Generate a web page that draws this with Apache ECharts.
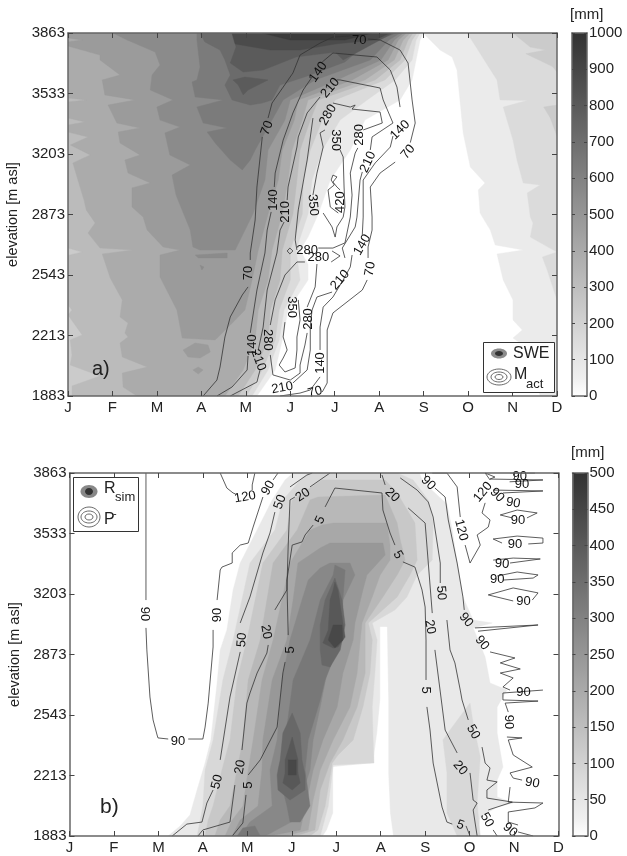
<!DOCTYPE html>
<html><head><meta charset="utf-8">
<style>html,body{margin:0;padding:0;background:#fff}#c{width:627px;height:856px}</style>
<script src="https://cdn.jsdelivr.net/npm/echarts@6/dist/echarts.min.js"></script>
</head><body><div id="c"></div>
<script>
const monthLabels=['J','F','M','A','M','J','J','A','S','O','N','D'];
const monthTicks=[0,1,2,3,4,5,6,7,8,9,10,11];
const elevationTicks=[1883,2213,2543,2873,3203,3533,3863];
const colorbarGrays=['#ffffff','#efefef','#e6e6e6','#dcdcdc','#d2d2d2','#c8c8c8','#bebebe','#b4b4b4','#aaaaaa','#a0a0a0','#969696','#8c8c8c','#828282','#787878','#6e6e6e','#646464','#5a5a5a','#505050','#464646','#3c3c3c','#333333'];
const sweGrays=['#ebebeb','#dbdbdb','#cbcbcb','#bbbbbb','#ababab','#9b9b9b','#8b8b8b','#7b7b7b','#6b6b6b','#5b5b5b','#4b4b4b','#3b3b3b'];
const rsimGrays=['#e9e9e9','#ffffff','#d8d8d8','#c8c8c8','#b8b8b8','#a8a8a8','#989898','#888888','#787878','#686868','#585858','#484848'];

// Panel a: SWE filled bands, [month, elevation]
const sweBand1=[
 [[0,3863],[7.99,3863],[7.92,3825],[7.83,3716],[7.74,3607],[7.47,3498],[6.68,3388],[6.35,3225],[5.90,3061],[5.63,2876],[5.40,2750],[5.22,2679],[5.40,2600],[5.40,2516],[4.95,2352],[4.82,2189],[4.66,2025],[4.25,1883],[0,1883]],
 [[7.99,3863],[8.37,3770],[8.64,3732],[8.75,3661],[8.89,3318],[9.05,3132],[9.38,3045],[9.23,3007],[9.27,2881],[9.50,2788],[9.61,2707],[10.24,2679],[9.65,2658],[9.79,2516],[10.01,2407],[10.01,2298],[10.22,2243],[10.01,2199],[10.40,2134],[10.62,1883],[11,1883],[11,3863]]];
const sweBand2=[
 [[0,3863],[7.92,3863],[7.83,3825],[7.74,3716],[7.36,3607],[6.73,3498],[6.12,3388],[5.72,3225],[5.49,3061],[5.40,2876],[5.13,2679],[5.22,2516],[4.86,2352],[4.75,2189],[4.50,2025],[4.14,1883],[0,1883]],
 [[8.98,3863],[9.65,3607],[9.72,3498],[10.33,3495],[9.79,3459],[10.01,3279],[10.10,3170],[10.24,3045],[10.62,3034],[10.33,2990],[10.40,2859],[10.46,2827],[10.40,2750],[11,2668],[10.67,2641],[10.78,2570],[11,2407],[11,3863]]];
const sweBand3=[
 [[0,3863],[7.85,3863],[7.74,3825],[7.58,3716],[7.13,3607],[6.01,3498],[5.72,3388],[5.45,3225],[5.29,3061],[5.27,2876],[5.00,2679],[5.00,2516],[4.75,2352],[4.66,2189],[4.37,2025],[4.01,1883],[0,1883]],
 [[10.01,3863],[10.40,3786],[10.75,3770],[10.30,3750],[10.90,3680],[11,3650],[11,3863]],
 [[11,3470],[10.70,3459],[10.85,3400],[11,3300]]];
const sweBand4=[
 [[0,3863],[0,2690],[0.32,2668],[0,2650],[0,2380],[0.09,2352],[0,2325],[0.32,2216],[0.05,2189],[0.09,2107],[0.05,2052],[0.72,1992],[0.09,1938],[0.09,1883],[3.83,1883],[4.21,2025],[4.50,2189],[4.55,2352],[4.77,2516],[4.82,2679],[5.06,2876],[5.15,3061],[5.22,3225],[5.45,3388],[5.63,3498],[6.91,3607],[7.47,3716],[7.65,3825],[7.76,3863]]];
const sweBand5=[
 [[0,3863],[0,3508],[0.41,3498],[0,3487],[0,3399],[0.38,3378],[0,3361],[0,3323],[0.45,3296],[0.05,3252],[0.50,3198],[0.11,3154],[0.27,3023],[0.36,2952],[0.41,2898],[0.61,2827],[0.45,2772],[0.72,2690],[1.46,2679],[0.77,2658],[0.95,2527],[1.22,2407],[1.17,2314],[1.35,2281],[1.28,2227],[1.35,2205],[1.17,2172],[1.22,2096],[1.78,2041],[1.22,2008],[1.24,1932],[1.55,1883],[3.53,1883],[3.94,2025],[4.21,2189],[4.28,2352],[4.50,2516],[4.59,2679],[4.82,2876],[4.95,3061],[5.04,3225],[5.27,3388],[5.40,3498],[6.68,3607],[7.34,3716],[7.54,3825],[7.70,3863]]];
const sweBand6=[
 [[0,3863],[0,3836],[0.32,3825],[0,3814],[0,3792],[0.72,3743],[0.72,3716],[1.17,3634],[0.77,3607],[0.83,3525],[1.51,3498],[0.90,3470],[1.10,3372],[1.62,3345],[1.13,3323],[1.17,3263],[1.62,3198],[1.28,3170],[1.35,3099],[1.85,3045],[1.44,3018],[1.44,2914],[1.69,2859],[1.78,2788],[2.14,2696],[2.52,2679],[2.07,2652],[2.07,2532],[2.45,2352],[2.57,2199],[3.31,2189],[3.65,2270],[3.98,2352],[4.14,2516],[4.28,2679],[4.50,2876],[4.73,3061],[4.82,3225],[5.09,3388],[5.18,3498],[6.39,3607],[7.20,3716],[7.43,3825],[7.61,3863]],
 [[2.59,2134],[2.86,2172],[3.15,2161],[3.20,2123],[2.97,2090],[2.70,2096]],
 [[2.81,2025],[2.93,2041],[3.04,2025],[2.93,2003]]];
const sweBand7=[
 [[1.01,3863],[1.33,3825],[1.96,3759],[2.07,3688],[1.89,3634],[1.85,3552],[2.36,3498],[2.00,3459],[2.07,3388],[2.52,3350],[2.18,3318],[2.29,3198],[2.75,3143],[2.34,3088],[2.43,2979],[2.75,2788],[2.81,2696],[2.97,2679],[3.76,2679],[4.16,2876],[4.43,3061],[4.50,3225],[4.88,3388],[5.00,3498],[6.05,3607],[7.04,3716],[7.34,3825],[7.54,3863]],
 [[2.86,2652],[3.58,2663],[3.58,2636],[2.93,2636]],
 [[2.97,2597],[3.06,2586],[3.01,2570]]];
const sweBand8=[
 [[2.90,3863],[2.90,3825],[2.97,3678],[2.90,3607],[2.79,3596],[2.86,3514],[3.49,3498],[2.90,3459],[3.04,3372],[3.58,3345],[3.13,3323],[3.31,3263],[3.65,3170],[3.92,3116],[4.10,3170],[4.21,3225],[4.59,3388],[4.84,3498],[5.56,3607],[6.80,3716],[7.22,3825],[7.47,3863]]];
const sweBand9=[
 [[2.97,3863],[3.08,3814],[3.42,3770],[3.53,3716],[3.65,3634],[3.53,3579],[3.69,3498],[4.10,3470],[4.37,3481],[4.59,3498],[4.77,3579],[5.45,3634],[6.23,3705],[6.68,3798],[7.38,3863]]];
const sweBand10=[
 [[3.69,3863],[3.78,3787],[3.65,3699],[3.94,3650],[4.39,3661],[5.13,3732],[6.01,3759],[6.19,3716],[7.02,3825],[7.31,3863]],
 [[3.71,3607],[3.98,3623],[4.50,3607],[4.05,3552],[3.94,3525],[3.83,3579]]];
const sweBand11=[
 [[3.69,3863],[3.76,3803],[4.55,3770],[5.22,3770],[6.01,3803],[6.91,3825],[7.25,3863]]];
const sweBand12=[
 [[4.37,3863],[5.00,3825],[6.23,3825],[6.84,3863]]];
const sweBands=[sweBand1,sweBand2,sweBand3,sweBand4,sweBand5,sweBand6,sweBand7,sweBand8,sweBand9,sweBand10,sweBand11,sweBand12];

// Panel a: Mact contours; null breaks a line under its label
const mact70=[[3.04,1883],[3.35,1970],[3.42,2041],[3.53,2205],[3.65,2314],[3.92,2434],[4.05,2478],null,[4.10,2625],[4.10,2663],[4.21,2843],[4.25,3023],[4.37,3296],null,[4.50,3399],[4.59,3481],[4.84,3568],[5.06,3645],[5.22,3743],[5.67,3808],[5.96,3841],[6.35,3847],null,[6.75,3830],[7.02,3825],[7.47,3770],[7.65,3699],[7.74,3498],[7.81,3372],[7.70,3265],null,[7.36,3159],[7.02,3099],[6.80,3023],[6.84,2859],[6.84,2788],[6.75,2696],[6.75,2636],null,[6.73,2516],[6.62,2461],[5.96,2336],[5.83,2243],[5.83,1954],[5.72,1905]];
const mact140=[[3.35,1883],[3.69,1932],[4.03,2025],[4.05,2101],null,[4.10,2227],[4.25,2461],[4.43,2663],[4.48,2788],[4.57,2887],null,[4.64,3023],[4.66,3099],[4.84,3279],[5.06,3427],[5.29,3552],[5.49,3623],null,[5.72,3705],[5.96,3754],[6.95,3732],[7.25,3661],[7.40,3568],[7.47,3459],null,[7.31,3301],[7.25,3241],[6.91,3154],[6.64,3061],[6.64,2859],[6.62,2761],null,[6.39,2652],[6.35,2587],[6.19,2516],[5.96,2423],[5.74,2368],[5.67,2259],[5.67,2134],null,[5.67,1987],[5.45,1916],[5.22,1899],[4.77,1883]];
const mact210=[[3.65,1883],[4.25,1959],[4.32,2025],null,[4.28,2134],[4.39,2259],[4.48,2461],[4.70,2663],[4.77,2788],[4.86,2832],null,[4.93,2952],[4.95,3023],[5.15,3241],[5.18,3296],[5.38,3427],[5.67,3514],null,[6.05,3607],[6.12,3607],[7.02,3563],[7.09,3498],[7.31,3372],[6.84,3296],[6.80,3225],null,[6.62,3105],[6.57,3061],[6.50,2859],[6.46,2805],[6.17,2690],[6.23,2636],null,[5.94,2450],[5.60,2423],[5.49,2352],[5.45,2259],[5.45,2134],[5.38,2025],[5.06,1954],null,[4.50,1889]];
const mact280Upper=[[6.23,2718],[5.96,2690],[5.63,2690],null,[5.15,2679],[5.11,2734],[5.18,2898],[5.38,3170],[5.51,3399],null,[5.96,3481],[6.35,3459],[6.46,3470],[6.39,3448],[7.02,3432],[7.07,3372],[6.64,3334],null,[6.52,3236],[6.46,3208],[6.35,3099],[6.39,2979],[6.35,2859],[6.23,2718]];
const mact280Lower=[[5.15,2614],[5.33,2614],null,[5.92,2614],[6.12,2647],[5.94,2674]];
const mact280South=[[5.60,2603],[5.56,2478],[5.38,2368],null,[5.38,2227],[5.33,2161],[5.22,2052],[5.22,2008],[5.00,1970],[4.61,1998],[4.55,2107],null,[4.55,2270],[4.66,2407],[4.88,2543],[5.15,2614]];
const mact280Small=[[4.99,2690],[5.06,2674],[4.99,2658],[4.93,2674],[4.99,2690]];
const mact350South=[[5.18,2407],[5.22,2298],[5.15,2205],[5.15,2134],[5.11,2036],[4.88,2014],[4.75,2052],[4.84,2090],[4.93,2134],[4.84,2205],[4.88,2286]];
const mact350North=[[5.67,3318],[5.78,3334],null,[6.12,3225],[6.19,3187],[6.21,3023],[6.23,2914],[6.19,2859],[6.05,2805],[6.01,2750],[5.94,2805],[5.74,2881],null,[5.51,2979],[5.60,3099],[5.74,3241],[5.67,3318]];
const mact420=[[5.85,3007],[5.90,2914],[6.08,2881],null,[6.12,3007],[6.05,3023],[5.96,3050],[6.05,3078],[5.96,3088],[5.92,3061],[5.99,3034],[5.85,3007]];
const mactLines=[mact70,mact140,mact210,mact280Upper,mact280Lower,mact280South,mact280Small,mact350South,mact350North,mact420];
const mactLabels=[[6.55,3825,'70'],[5.63,3650,'140'],[5.90,3563,'210'],[5.85,3416,'280'],[6.01,3279,'350'],[4.48,3345,'70'],[4.61,2952,'140'],[4.88,2887,'210'],[6.55,3307,'280'],[6.75,3159,'210'],[7.47,3334,'140'],[7.65,3214,'70'],[6.12,2941,'420'],[5.51,2925,'350'],[5.38,2679,'280'],[5.63,2641,'280'],[6.62,2707,'140'],[6.80,2576,'70'],[6.12,2516,'210'],[4.05,2554,'70'],[5.04,2368,'350'],[5.40,2303,'280'],[4.50,2189,'280'],[4.14,2161,'140'],[4.28,2079,'210'],[4.82,1927,'210'],[5.67,2063,'140'],[5.56,1905,'70']];
const mactLabelAngles=[0,55,50,60,-90,70,90,90,90,65,45,50,90,-85,0,0,60,80,50,90,-90,90,-90,90,-70,10,90,15];

// Panel b: Rsim filled bands
const rsimBand1=[[[5.03,3863],[4.85,3825],[4.56,3716],[4.22,3552],[3.84,3372],[3.68,3225],[3.54,3007],[3.39,2898],[3.32,2718],[3.18,2407],[3.05,2281],[2.87,2134],[2.71,1998],[2.49,1938],[2.22,1883],[9.17,1883],[9.24,1987],[9.62,2041],[9.98,2063],[9.62,2096],[9.62,2188],[9.75,2259],[9.62,2445],[9.62,2587],[9.84,2679],[9.46,2718],[9.35,2859],[9.08,3018],[9.51,3045],[9.08,3061],[8.85,3187],[8.72,3372],[8.61,3552],[8.49,3694],[7.95,3814],[7.87,3863]]];
const rsimNotch=[[[6.99,3023],[7.14,3023],[7.17,2625],[7.17,2227],[7.21,2008],[7.28,1883],[5.70,1883],[5.79,1916],[5.93,2008],[5.93,2259],[6.83,2281],[6.92,2445],[6.99,2625]]];
const rsimBand2=[[[2.87,1883],[2.94,1970],[3.00,2047],[3.05,2243],[3.23,2407],[3.45,2734],[3.68,2952],[4.06,3372],[4.62,3552],[4.80,3716],[5.19,3825],[5.41,3863],[7.37,3863],[7.73,3825],[8.07,3716],[8.18,3590],[8.16,3388],[7.82,3307],[7.59,3187],[7.32,3116],[6.81,3045],[6.92,2952],[6.87,2772],[6.81,2587],[6.83,2407],[6.85,2281],[5.93,2270],[5.82,2047],[5.64,1883]],
 [[9.01,2608],[8.56,2461],[8.40,2407],[8.49,2227],[8.49,2008],[8.72,1883],[9.24,1883],[9.17,2063],[9.24,2314],[9.08,2499]]];
const rsimBand3=[[[3.05,1883],[3.12,1970],[3.23,2047],[3.43,2243],[3.61,2407],[3.77,2734],[3.99,2952],[4.35,3372],[4.89,3552],[5.01,3716],[5.68,3825],[7.10,3825],[7.37,3754],[7.77,3590],[7.82,3388],[7.66,3307],[7.37,3187],[6.72,3045],[6.81,2952],[6.76,2772],[6.60,2587],[6.38,2407],[6.04,2325],[5.91,2281],[5.75,2047],[5.59,1916],[5.41,1883]]];
const rsimBand4=[[[3.27,1883],[3.39,1970],[3.61,2047],[3.77,2243],[3.90,2407],[4.02,2734],[4.29,2952],[4.58,3372],[5.12,3552],[5.41,3716],[5.59,3732],[7.10,3743],[7.37,3590],[7.44,3498],[7.55,3388],[7.37,3307],[7.05,3187],[6.65,3045],[6.65,2952],[6.65,2772],[6.47,2587],[6.15,2407],[5.86,2281],[5.64,2134],[5.52,1916],[5.07,1883]]];
const rsimBand5=[[[3.50,1883],[3.66,1970],[3.90,2047],[4.02,2243],[4.13,2407],[4.33,2734],[4.58,2952],[4.96,3372],[5.41,3552],[5.68,3579],[5.93,3590],[7.14,3590],[7.21,3470],[7.21,3388],[6.99,3307],[6.81,3187],[6.58,3045],[6.54,2952],[6.47,2772],[6.31,2587],[5.93,2407],[5.64,2243],[5.48,2079],[5.37,1916],[4.85,1883]]];
const rsimBand6=[[[3.66,1883],[3.84,1970],[4.24,2047],[4.33,2243],[4.35,2407],[4.56,2734],[4.89,2952],[5.03,3170],[5.14,3372],[5.64,3454],[5.86,3481],[7.05,3481],[7.10,3416],[6.69,3307],[6.60,3225],[6.42,3045],[6.38,2952],[6.15,2772],[6.02,2587],[5.70,2407],[5.48,2243],[5.34,2079],[5.19,1916],[4.49,1883]]];
const rsimBand7=[[[3.84,1883],[4.06,1959],[4.56,2047],[4.51,2243],[4.67,2407],[4.78,2734],[4.96,2952],[5.23,3170],[5.37,3279],[5.64,3345],[5.86,3372],[6.31,3372],[6.42,3307],[6.15,3170],[6.13,2952],[5.79,2772],[5.64,2587],[5.48,2407],[5.41,2243],[5.19,2079],[5.07,1970],[4.40,1883]]];
const rsimBand8=[[[4.96,1959],[4.89,2047],[4.69,2243],[4.85,2407],[5.03,2734],[5.41,2952],[5.64,3170],[5.93,3307],[5.97,3361],[6.20,3334],[6.15,3170],[6.09,3034],[6.04,2952],[5.93,2843],[5.75,2734],[5.64,2625],[5.37,2407],[5.30,2243],[5.41,2047],[5.19,1959]],
 [[3.77,1883],[3.90,1927],[4.17,1938],[4.29,1883]]];
const rsimBand9=[[[5.97,3290],[5.75,3170],[5.64,3034],[5.64,2898],[5.68,2816],[5.86,2805],[6.09,2898],[6.20,3034],[6.13,3170]],
 [[5.01,2554],[4.80,2445],[4.74,2298],[4.67,2216],[4.69,2134],[4.96,2079],[5.30,2134],[5.30,2216],[5.23,2298],[5.19,2445]]];
const rsimBand10=[[[5.86,3170],[5.93,3225],[5.97,3268],[6.04,3225],[6.13,3078],[6.20,2968],[6.04,2914],[5.93,2908],[5.70,2936],[5.82,3007]],
 [[5.01,2423],[4.85,2298],[4.85,2227],[4.80,2172],[5.01,2134],[5.19,2172],[5.14,2227],[5.14,2298]]];
const rsimBand11=[[[5.93,3034],[6.13,3034],[6.15,2952],[5.97,2908],[5.82,2952]],
 [[4.92,2298],[5.10,2298],[5.10,2216],[4.92,2216]]];
const rsimBands=[rsimBand1,rsimNotch,rsimBand2,rsimBand3,rsimBand4,rsimBand5,rsimBand6,rsimBand7,rsimBand8,rsimBand9,rsimBand10,rsimBand11];

// Panel b: P- contours
const pLeft90=[[1.72,3863],[1.72,3372],[1.72,3170],null,[1.72,3018],[1.74,2898],[1.81,2641],[1.88,2516],[1.97,2434],[1.99,2418],[2.22,2412],null,[2.67,2412],[3.00,2412],[3.05,2477],[3.12,2608],[3.23,2914],[3.23,3007],null,[3.32,3170],[3.39,3334],[3.43,3350],[3.66,3372],[3.66,3427],[3.84,3470],[4.02,3481],[4.13,3568],[4.35,3732],null,[4.58,3825],[4.69,3863]];
const pLeft120=[[3.39,3863],[3.54,3781],[3.68,3754],[3.74,3748],null,[4.11,3770],[4.11,3798],[4.17,3863]];
const pLeft50=[[2.31,1883],[2.64,1948],[2.98,1959],[3.09,2063],[3.23,2134],null,[3.39,2298],[3.61,2641],[3.84,2887],null,[3.84,3045],[4.06,3187],[4.35,3427],[4.51,3536],[4.62,3650],null,[4.96,3787],[5.34,3852],[5.46,3863]];
const pLeft20=[[2.89,1883],[3.00,1916],[3.61,1959],[3.72,2161],null,[3.88,2352],[3.99,2608],[4.06,2663],[4.22,2772],[4.44,2881],[4.47,2925],null,[4.62,3116],[4.89,3225],[4.92,3470],[4.96,3716],[5.07,3732],null,[5.41,3787],[5.86,3863]];
const pArch5=[[3.66,1883],[3.90,1954],[3.97,2107],null,[4.02,2216],[4.29,2298],[4.67,2477],[4.80,2772],[4.85,2832],null,[4.92,2979],[4.89,3279],[5.01,3470],[5.23,3487],[5.30,3525],[5.48,3579],null,[5.75,3678],[5.97,3781],[7.03,3754],[7.05,3661],[7.21,3536],[7.32,3470],null,[7.50,3378],[7.77,3350],[7.93,3225],[8.00,3132],[8.02,2952],[8.02,2734],null,[8.04,2587],[8.11,2461],[8.18,2281],[8.38,2041],[8.49,1959],[8.61,1948],null,[8.92,1938],[9.01,1883]];
const pRight20=[[7.03,3852],[7.10,3798],null,[7.62,3672],[8.00,3590],[8.16,3099],null,[8.22,2898],[8.45,2461],[8.72,2336],null,[9.01,2227],[9.08,2079],[9.17,2063],[9.08,2025],[9.17,1883]];
const pRight50=[[7.44,3836],[7.82,3770],[8.07,3705],[8.18,3623],[8.34,3372],[8.34,3263],null,[8.49,3061],[8.56,2898],[8.67,2827],[8.79,2679],[8.83,2625],[8.97,2516],null,[9.28,2368],[9.35,2281],[9.46,2254],[9.39,2188],[9.62,2178],[9.39,2134],[9.39,2090],[9.96,2068],[9.42,2025],null,[9.53,1916],[9.62,1883]];
const pRight90=[[7.89,3852],null,[8.22,3781],[8.45,3732],[8.52,3607],[8.72,3372],[8.85,3187],[8.88,3116],null,[9.12,3018],[10.54,3034],[9.19,3000],null,[9.46,2887],[10.02,2854],[9.69,2827],[10.14,2794],[9.69,2772],[9.98,2745],[9.75,2696],[9.91,2679],null,[10.65,2679],[9.75,2663],[9.75,2625],[10.54,2619],[9.80,2608],[9.87,2559],null,[9.84,2423],[10.18,2418],[9.87,2407],[9.98,2325],[10.41,2259],[9.91,2227],[9.98,2199],[10.18,2188],null,[9.91,2150],[9.87,2068],[10.65,2063],[10.47,2036],[9.87,2014],[9.87,1959],[10.09,1943],null,[10.09,1905],[10.43,1883]];
const pRight120=[[8.16,3863],[8.49,3863],[8.72,3787],[8.79,3623],null,[8.90,3470],[9.01,3372],[9.24,3470],[9.17,3525],[9.42,3568],[9.46,3607],[9.28,3645],[9.35,3700],null,[9.46,3825],[9.35,3863]];
const pTop90a=[[9.35,3863],[9.57,3841],[9.46,3830],[10.65,3825],[9.90,3815]];
const pTop90b=[[9.53,3770],[10.65,3765],[9.75,3754]];
const pTop90c=[[9.91,3863],[10.47,3863]];
const pLoop1=[[9.69,3634],[10.07,3661],[10.52,3645],[10.29,3618],null,[9.96,3618],[9.69,3634]];
const pLoop2=[[9.53,3503],[10.07,3519],[10.65,3508],[10.65,3481],[10.32,3476],null,[9.73,3481],[9.53,3503]];
const pLoop3=[[9.53,3388],[9.98,3399],[10.59,3394],[9.91,3372]];
const pLoop4=[[9.62,3301],[10.07,3323],[10.54,3307],[10.43,3290],[9.75,3279]];
const pLoop5=[[9.42,3198],[9.98,3236],[10.54,3209],[10.41,3170],null,[9.98,3165],[9.42,3198]];
const pLines=[pLeft90,pLeft120,pLeft50,pLeft20,pArch5,pRight20,pRight50,pRight90,pRight120,pTop90a,pTop90b,pTop90c,pLoop1,pLoop2,pLoop3,pLoop4,pLoop5];
const pLabels=[[1.68,3094,'90'],[2.44,2401,'90'],[3.32,3088,'90'],[4.47,3781,'90'],[3.95,3732,'120'],[3.32,2178,'50'],[3.88,2952,'50'],[4.74,3705,'50'],[3.84,2259,'20'],[4.42,2996,'20'],[5.25,3743,'20'],[4.02,2161,'5'],[4.96,2898,'5'],[5.64,3607,'5'],[7.39,3416,'5'],[8.00,2679,'5'],[8.79,1943,'5'],[7.26,3743,'20'],[8.11,3023,'20'],[8.79,2254,'20'],[8.36,3209,'50'],[9.08,2450,'50'],[9.39,1970,'50'],[8.07,3808,'90'],[8.92,3061,'90'],[9.28,2936,'90'],[9.91,1916,'90'],[8.81,3552,'120'],[9.30,3759,'120'],[9.62,3743,'90'],[9.98,3700,'90'],[10.09,3607,'90'],[10.02,3476,'90'],[9.73,3367,'90'],[9.62,3281,'90'],[10.21,3165,'90'],[10.21,2668,'90'],[9.87,2505,'90'],[10.41,2172,'90'],[10.18,3803,'90'],[10.13,3847,'90']];
const pLabelAngles=[-90,0,90,60,10,75,85,70,80,-80,35,90,90,65,-60,-90,-20,-45,-80,-50,-85,-60,-60,-45,-50,-50,-40,-75,50,-45,-10,0,0,-5,0,0,0,-90,-10,0,0];

const sweTicks=[0,100,200,300,400,500,600,700,800,900,1000];
const rsimTicks=[0,50,100,150,200,250,300,350,400,450,500];

const chart=echarts.init(document.getElementById('c'),null,{renderer:'canvas'});
const frame='#666';
const ink='#222';
const font='Liberation Sans';
const grids=[
 {left:68,top:33,width:489,height:363,outerBoundsMode:'none',containLabel:false},
 {left:572,top:33,width:15,height:363,outerBoundsMode:'none',containLabel:false},
 {left:69.5,top:473,width:489,height:363,outerBoundsMode:'none',containLabel:false},
 {left:572.5,top:473,width:15,height:363,outerBoundsMode:'none',containLabel:false}];
const xAxis=[],yAxis=[];
const axisLine={show:true,onZero:false,lineStyle:{color:frame,width:1.5}};
grids.forEach((g,i)=>{
 const plot=i%2===0;
 ['bottom','top'].forEach((pos,k)=>xAxis.push({gridIndex:i,type:'value',position:pos,min:0,max:plot?11:1,interval:1,z:5,
  axisLine,splitLine:{show:false},
  axisTick:{show:plot,inside:true,length:5,lineStyle:{color:'#444',width:1}},
  axisLabel:{show:plot&&k===0,margin:4,fontFamily:font,fontSize:15,color:ink,formatter:v=>monthLabels[v]||'',showMinLabel:true,showMaxLabel:true}}));
 const ticks=plot?elevationTicks:(i===1?sweTicks:rsimTicks);
 const mn=ticks[0],mx=ticks[ticks.length-1];
 ['left','right'].forEach((pos,k)=>{
  const lab=plot?k===0:k===1;
  const ax={gridIndex:i,type:'value',position:pos,min:mn,max:mx,z:5,scale:true,
   axisLine,splitLine:{show:false},
   axisTick:{show:true,inside:true,length:plot?5:3,customValues:ticks,lineStyle:{color:'#444',width:1}},
   axisLabel:{show:lab,margin:plot?3:2,fontFamily:font,fontSize:15,color:ink,customValues:ticks,formatter:v=>String(v),showMinLabel:true,showMaxLabel:true}};
  if(plot&&k===0){ax.name='elevation [m asl]';ax.nameLocation='middle';ax.nameGap=46;ax.nameTextStyle={fontFamily:font,fontSize:14.5,color:ink};}
  yAxis.push(ax);
 });
});

function polyIndex(bands,grays){
 const out=[];
 bands.forEach((polys,b)=>polys.forEach(p=>out.push({pts:p,fill:grays[b]})));
 return out;
}
function bandSeries(list,gi){
 return {type:'custom',coordinateSystem:'cartesian2d',xAxisIndex:gi*2,yAxisIndex:gi*2,silent:true,z:2,animation:false,clip:true,
  data:list.map((_,i)=>[i]),
  encode:{x:-1,y:-1},
  renderItem:(params,api)=>{
   const it=list[api.value(0)];
   return {type:'polygon',shape:{points:it.pts.map(q=>api.coord(q))},style:{fill:it.fill,stroke:it.fill,lineWidth:0.4}};
  }};
}
function barSeries(top,gi){
 return {type:'custom',coordinateSystem:'cartesian2d',xAxisIndex:gi*2,yAxisIndex:gi*2,silent:true,z:2,animation:false,
  data:[[0]],encode:{x:-1,y:-1},
  renderItem:(params,api)=>{
   const a=api.coord([0,0]),b=api.coord([1,top]);
   const n=colorbarGrays.length-1;
   return {type:'rect',shape:{x:a[0],y:b[1],width:b[0]-a[0],height:a[1]-b[1]},
    style:{fill:new echarts.graphic.LinearGradient(0,1,0,0,colorbarGrays.map((c,i)=>({offset:i/n,color:c})))}};
  }};
}
function lineSeries(pts,gi){
 return {type:'line',xAxisIndex:gi*2,yAxisIndex:gi*2,silent:true,animation:false,showSymbol:false,symbol:'none',z:3,
  connectNulls:false,lineStyle:{color:'#333',width:0.8},
  data:pts.map(p=>p===null?['-','-']:p)};
}
function labelSeries(labels,angles,gi){
 return {type:'custom',coordinateSystem:'cartesian2d',xAxisIndex:gi*2,yAxisIndex:gi*2,silent:true,z:4,animation:false,clip:false,
  data:labels.map((_,i)=>[i]),encode:{x:-1,y:-1},
  renderItem:(params,api)=>{
   const i=api.value(0),l=labels[i],pt=api.coord([l[0],l[1]]);
   return {type:'text',x:pt[0],y:pt[1],rotation:angles[i]*Math.PI/180,
    style:{text:l[2],font:'13px "Liberation Sans"',fill:'#111',align:'center',verticalAlign:'middle'}};
  }};
}
const series=[
 bandSeries(polyIndex(sweBands,sweGrays),0),
 ...mactLines.map(p=>lineSeries(p,0)),
 labelSeries(mactLabels,mactLabelAngles,0),
 barSeries(1000,1),
 bandSeries(polyIndex(rsimBands,rsimGrays),2),
 ...pLines.map(p=>lineSeries(p,2)),
 labelSeries(pLabels,pLabelAngles,2),
 barSeries(500,3)
];
function txt(x,y,t,size){return {type:'text',z:50,x,y,style:{text:t,font:size+'px "Liberation Sans"',fill:ink,verticalAlign:'middle'}};}
function ell(cx,cy,rx,ry,fill,stroke){return {type:'ellipse',z:50,shape:{cx,cy,rx,ry},style:{fill:fill||'none',stroke:stroke||'none',lineWidth:0.8}};}
const graphic=[
 {type:'rect',z:49,shape:{x:483.5,y:342.5,width:71,height:50},style:{fill:'#fff',stroke:'#333',lineWidth:1}},
 ell(499,353.5,8,5,'#8c8c8c'),ell(499,353.5,4,2.5,'#333'),
 txt(513,354,'SWE',16),
 ell(499,377,12,8,null,'#444'),ell(499,377,8,5,null,'#444'),ell(499,377,4,2.5,null,'#444'),
 txt(514,375,'M',16),txt(526,384,'act',13),
 {type:'rect',z:49,shape:{x:73.5,y:477.5,width:65,height:54},style:{fill:'#fff',stroke:'#333',lineWidth:1}},
 ell(89,491.5,8.5,6.5,'#888'),ell(89,491.5,4,3.5,'#333'),
 txt(104,489,'R',16),txt(115,497,'sim',13),
 ell(89,517,11,10,null,'#444'),ell(89,517,8,6,null,'#444'),ell(89,517,4,3,null,'#444'),
 txt(104,520,'P',16),txt(113,514,'-',11),
 txt(92,369,'a)',20),txt(100,807,'b)',21),
 txt(570,15,'[mm]',15),txt(571,453,'[mm]',15)
];
chart.setOption({animation:false,backgroundColor:'#fff',grid:grids,xAxis,yAxis,series,graphic});
</script></body></html>
